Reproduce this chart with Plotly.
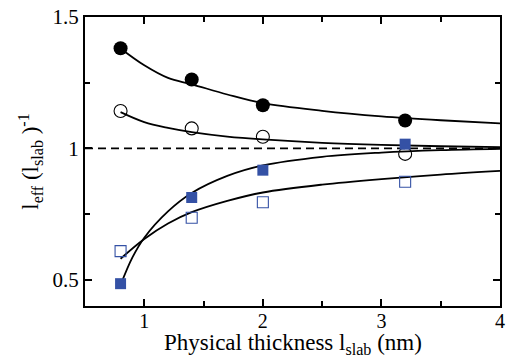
import plotly.graph_objects as go

# Measured ratios at each slab thickness (nm)
thickness = [0.8, 1.4, 2.0, 3.2]
ratio_filled_circle = [1.381, 1.262, 1.164, 1.106]
ratio_open_circle = [1.142, 1.076, 1.044, 0.979]
ratio_filled_square = [0.485, 0.813, 0.917, 1.016]
ratio_open_square = [0.609, 0.736, 0.795, 0.873]

# Fitted curves, sampled along the thickness axis
fit_x = [0.8, 1.0, 1.2, 1.4, 1.7, 2.0, 2.5, 3.0, 3.5, 4.0]
fit_filled_circle = [1.380, 1.316, 1.268, 1.244, 1.205, 1.172, 1.143, 1.122, 1.107, 1.095]
fit_open_circle = [1.138, 1.100, 1.078, 1.062, 1.045, 1.034, 1.021, 1.013, 1.008, 1.005]
fit_open_square = [0.580, 0.655, 0.714, 0.757, 0.800, 0.832, 0.862, 0.883, 0.900, 0.914]

fit_x_sq = [0.8, 0.9, 1.0, 1.2, 1.4, 1.7, 2.0, 2.5, 3.0, 3.5, 4.0]
fit_filled_square = [0.480, 0.585, 0.660, 0.760, 0.830, 0.895, 0.935, 0.968, 0.984, 0.993, 0.998]

ref_x = [0.5, 4.0]
ref_y = [1.0, 1.0]

blue = "#3451a5"
font_family = "Liberation Serif, Times New Roman, serif"

fig = go.Figure()

fig.add_trace(go.Scatter(x=ref_x, y=ref_y, mode="lines",
                         line=dict(color="black", width=1.6, dash="8px,5px"),
                         hoverinfo="skip"))

for fx, fy in [(fit_x, fit_filled_circle), (fit_x, fit_open_circle),
               (fit_x_sq, fit_filled_square), (fit_x, fit_open_square)]:
    fig.add_trace(go.Scatter(x=fx, y=fy, mode="lines",
                             line=dict(color="black", width=1.8, shape="spline")))

fig.add_trace(go.Scatter(x=thickness, y=ratio_filled_circle, mode="markers",
                         marker=dict(symbol="circle", size=14, color="black",
                                     line=dict(width=0))))
fig.add_trace(go.Scatter(x=thickness, y=ratio_open_circle, mode="markers",
                         marker=dict(symbol="circle-open", size=13, color="black",
                                     line=dict(width=1.1))))
fig.add_trace(go.Scatter(x=thickness, y=ratio_filled_square, mode="markers",
                         marker=dict(symbol="square", size=11, color=blue,
                                     line=dict(width=0))))
fig.add_trace(go.Scatter(x=thickness, y=ratio_open_square, mode="markers",
                         marker=dict(symbol="square-open", size=11, color=blue,
                                     line=dict(width=1.1))))

axis_common = dict(
    showline=True, linecolor="black", linewidth=2, mirror="allticks",
    ticks="inside", ticklen=7, tickwidth=1.5, tickcolor="black",
    showgrid=False, zeroline=False,
)

fig.update_layout(
    width=510, height=360,
    margin=dict(l=85, r=5, t=14, b=54),
    paper_bgcolor="white", plot_bgcolor="white",
    showlegend=False,
    font=dict(family=font_family, color="black"),
    xaxis=dict(range=[0.5, 4.0], tickvals=[1, 2, 3, 4],
               ticklabelstandoff=-4,
               tickfont=dict(family=font_family, size=20, color="black"),
               minor=dict(tickvals=[1.5, 2.5, 3.5], ticks="inside", ticklen=5,
                          tickwidth=1.5, tickcolor="black"),
               **axis_common),
    yaxis=dict(range=[0.4, 1.5], tickvals=[0.5, 1, 1.5], ticktext=["0.5", "1", "1.5"],
               tickfont=dict(family=font_family, size=21, color="black"),
               minor=dict(tickvals=[0.75, 1.25], ticks="inside", ticklen=5,
                          tickwidth=1.5, tickcolor="black"),
               title=dict(text="l<sub>eff</sub> (l<sub>slab</sub> )<sup>-1</sup>",
                          font=dict(family=font_family, size=23), standoff=7),
               **axis_common),
)

# x-axis title placed just under the tick labels
fig.add_annotation(text="Physical thickness l<sub>slab</sub> (nm)",
                   xref="paper", yref="paper", x=0.5, y=-0.076,
                   xanchor="center", yanchor="top", showarrow=False,
                   font=dict(family=font_family, size=23, color="black"))

fig.write_html("out.html")
